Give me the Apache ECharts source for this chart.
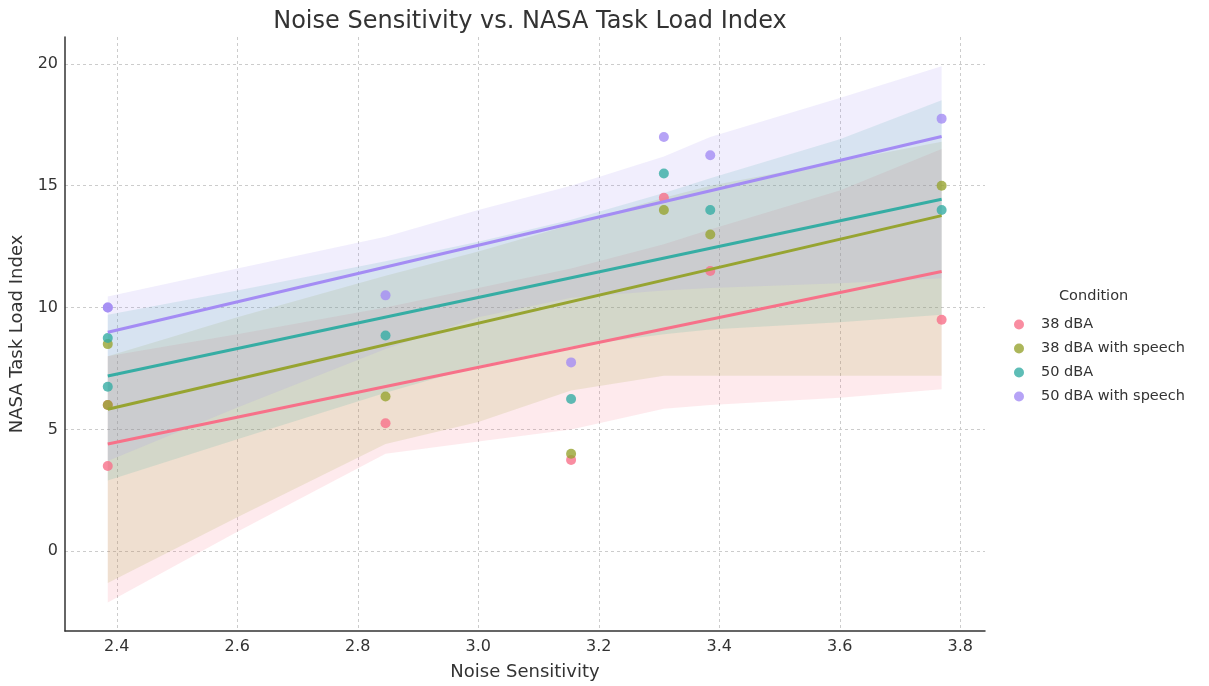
<!DOCTYPE html>
<html>
<head>
<meta charset="utf-8">
<script src="https://cdn.jsdelivr.net/npm/echarts@6/dist/echarts.min.js"></script>
<style>
html,body{margin:0;padding:0;background:#fff;}
#chart{width:1209px;height:686px;}
</style>
</head>
<body>
<div id="chart"></div>
<script>
// ---- Data ----
const conditions = ['38 dBA', '38 dBA with speech', '50 dBA', '50 dBA with speech'];
const noiseSensitivity = [2.385, 2.385, 2.846, 3.154, 3.308, 3.385, 3.769];
const tlx38 = [3.5, 6.0, 5.25, 3.75, 14.5, 11.5, 9.5];
const tlx38Speech = [8.5, 6.0, 6.35, 4.0, 14.0, 13.0, 15.0];
const tlx50 = [8.75, 6.75, 8.85, 6.25, 15.5, 14.0, 14.0];
const tlx50Speech = [10.0, 10.0, 10.5, 7.75, 17.0, 16.25, 17.75];

// confidence band edges at these x positions
const bandX = [2.385, 2.6, 2.846, 3.0, 3.154, 3.308, 3.385, 3.6, 3.769];
const band38Lower = [-2.1, 0.8, 4.0, 4.5, 5.0, 5.85, 6.0, 6.3, 6.65];
const band38Upper = [8.0, 8.9, 10.0, 10.8, 11.6, 12.6, 13.2, 14.8, 16.5];
const band38SpeechLower = [-1.3, 1.4, 4.4, 5.3, 6.6, 7.2, 7.2, 7.2, 7.2];
const band38SpeechUpper = [8.0, 9.6, 11.3, 12.3, 13.4, 14.5, 15.0, 16.0, 16.8];
const band50Lower = [2.9, 4.6, 6.5, 7.6, 8.4, 8.9, 9.1, 9.4, 9.7];
const band50Upper = [9.7, 10.7, 11.9, 12.7, 13.6, 14.7, 15.3, 16.9, 18.5];
const band50SpeechLower = [3.7, 5.9, 8.3, 9.6, 10.4, 10.7, 10.8, 11.0, 11.2];
const band50SpeechUpper = [10.45, 11.6, 12.9, 14.0, 15.0, 16.2, 17.0, 18.6, 19.9];

const xTicks = [2.4, 2.6, 2.8, 3.0, 3.2, 3.4, 3.6, 3.8];
const yTicks = [0, 5, 10, 15, 20];

// ---- Styling ----
const colors = ['#f77189', '#97a431', '#36ada4', '#a48cf4'];
const FONT = 'DejaVu Sans';

const seriesY = [tlx38, tlx38Speech, tlx50, tlx50Speech];
const bandsLower = [band38Lower, band38SpeechLower, band50Lower, band50SpeechLower];
const bandsUpper = [band38Upper, band38SpeechUpper, band50Upper, band50SpeechUpper];

function linFit(xs, ys) {
  const n = xs.length;
  const mx = xs.reduce((a, b) => a + b, 0) / n;
  const my = ys.reduce((a, b) => a + b, 0) / n;
  let sxy = 0, sxx = 0;
  for (let i = 0; i < n; i++) { sxy += (xs[i] - mx) * (ys[i] - my); sxx += (xs[i] - mx) ** 2; }
  const b = sxy / sxx;
  return { a: my - b * mx, b: b };
}

const series = [];
const xMinData = Math.min(...noiseSensitivity), xMaxData = Math.max(...noiseSensitivity);
conditions.forEach((name, k) => {
  const lo = bandsLower[k], up = bandsUpper[k];
  series.push({
    type: 'custom',
    name: name + ' band',
    z: 2,
    silent: true,
    renderItem: function (params, api) {
      const pts = [];
      for (let i = 0; i < bandX.length; i++) pts.push(api.coord([bandX[i], up[i]]));
      for (let i = bandX.length - 1; i >= 0; i--) pts.push(api.coord([bandX[i], lo[i]]));
      return {
        type: 'polygon',
        shape: { points: pts },
        style: { fill: colors[k], opacity: 0.15 }
      };
    },
    data: [[bandX[0], lo[0]]]
  });
  series.push({
    type: 'scatter',
    name: name,
    z: 2,
    symbolSize: 10,
    itemStyle: { color: colors[k], opacity: 0.8 },
    data: noiseSensitivity.map((x, i) => [x, seriesY[k][i]])
  });
  const f = linFit(noiseSensitivity, seriesY[k]);
  series.push({
    type: 'line',
    name: name + ' fit',
    z: 3,
    symbol: 'none',
    silent: true,
    lineStyle: { color: colors[k], width: 3 },
    data: [[xMinData, f.a + f.b * xMinData], [xMaxData, f.a + f.b * xMaxData]]
  });
});

const chart = echarts.init(document.getElementById('chart'), null, { renderer: 'canvas' });
chart.setOption({
  animation: false,
  backgroundColor: '#ffffff',
  title: {
    text: 'Noise Sensitivity vs. NASA Task Load Index',
    left: 525, top: 5, textAlign: 'center',
    textStyle: { fontFamily: FONT, fontSize: 24, fontWeight: 'normal', color: '#333' }
  },
  grid: { left: 65, right: 224, top: 37, bottom: 53, containLabel: false },
  xAxis: {
    type: 'value',
    min: 2.314, max: 3.841,
    name: 'Noise Sensitivity',
    nameLocation: 'middle', nameGap: 32,
    nameTextStyle: { fontFamily: FONT, fontSize: 18, color: '#333' },
    axisLine: { show: true, onZero: false, lineStyle: { color: '#333', width: 1.5 } },
    axisTick: { show: false, customValues: xTicks },
    axisLabel: { customValues: xTicks, fontFamily: FONT, fontSize: 16, color: '#333', margin: 8,
      formatter: v => v.toFixed(1) },
    splitLine: { show: true, lineStyle: { color: '#cccccc', type: [3, 3], width: 1 } }
  },
  yAxis: {
    type: 'value',
    min: -3.27, max: 21.1,
    name: 'NASA Task Load Index',
    nameLocation: 'middle', nameGap: 39,
    nameTextStyle: { fontFamily: FONT, fontSize: 18, color: '#333' },
    axisLine: { show: true, onZero: false, lineStyle: { color: '#333', width: 1.5 } },
    axisTick: { show: false, customValues: yTicks },
    axisLabel: { customValues: yTicks, fontFamily: FONT, fontSize: 16, color: '#333', margin: 7 },
    splitLine: { show: true, lineStyle: { color: '#cccccc', type: [3, 3], width: 1 } }
  },
  legend: {
    data: conditions.map((c, k) => ({ name: c, icon: 'circle', itemStyle: { color: colors[k], opacity: 0.8 } })),
    orient: 'vertical',
    left: 1009, top: 312,
    itemWidth: 10, itemHeight: 10, itemGap: 9,
    textStyle: { fontFamily: FONT, fontSize: 14.5, color: '#333', padding: [0, 0, 0, 12] }
  },
  graphic: [{
    type: 'text', left: 1059, top: 289,
    style: { text: 'Condition', font: '14.5px "DejaVu Sans"', fill: '#333' }
  }],
  series: series
});
</script>
</body>
</html>
